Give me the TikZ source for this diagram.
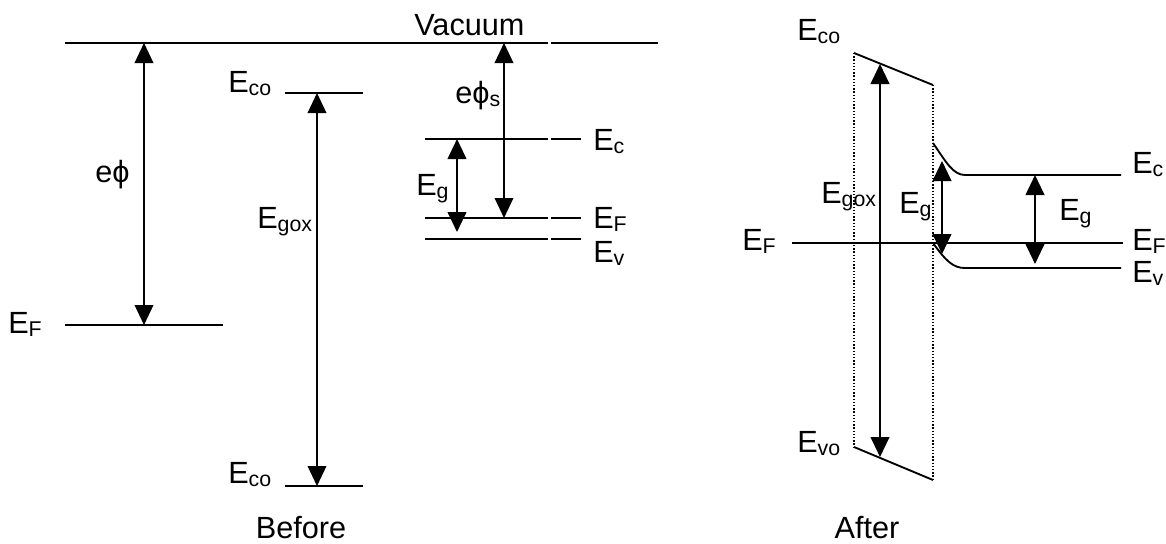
\documentclass[tikz,border=0pt]{standalone}
\usepackage{fontspec}
\setmainfont{Liberation Sans}
\usetikzlibrary{arrows.meta}
\newcommand\Esb[1]{E\raisebox{-2.6pt}{\fontsize{16}{17}\selectfont #1}}
\newcommand\mysub[1]{\raisebox{-2.6pt}{\fontsize{16}{17}\selectfont #1}}
\begin{document}
\begin{tikzpicture}[x=0.75pt,y=-0.75pt,
  lvl/.style={line width=1.4pt},
  vac/.style={line width=1.1pt},
  dbl/.style={line width=1.1pt,{Triangle[length=15pt,width=14pt]}-{Triangle[length=15pt,width=14pt]}},
  dblb/.style={line width=1.5pt,{Triangle[length=15pt,width=14pt]}-{Triangle[length=15pt,width=14pt]}},
  lab/.style={anchor=base west,inner sep=0pt,font=\fontsize{23}{27}\selectfont},
  ctr/.style={anchor=base,inner sep=0pt,font=\fontsize{23}{27}\selectfont},
  oxbox/.style={line width=1pt,dash pattern=on 1pt off 1.4pt}]
\useasboundingbox (0,0) rectangle (1166,543);
% ---------- Before ----------
\coordinate (v1) at (65,43);  \coordinate (v2) at (548,43);
\coordinate (v3) at (551,43); \coordinate (v4) at (658,43);
\draw[vac] (v1) -- (v2) (v3) -- (v4);
\coordinate (ef1) at (65,325); \coordinate (ef2) at (223,325);
\draw[vac] (ef1) -- (ef2);
\coordinate (ea1) at (144,43); \coordinate (ea2) at (144,325);
\draw[dbl] (ea1) -- (ea2);
\coordinate (ct1) at (285,93);  \coordinate (ct2) at (363,93);
\coordinate (cb1) at (285,486); \coordinate (cb2) at (363,486);
\draw[lvl] (ct1) -- (ct2) (cb1) -- (cb2);
\coordinate (ga1) at (317,93); \coordinate (ga2) at (317,486);
\draw[dbl] (ga1) -- (ga2);
\foreach \y/\n in {139/c,218/f,239/v}{
  \coordinate (s\n1) at (425,\y); \coordinate (s\n2) at (548,\y);
  \coordinate (s\n3) at (551,\y); \coordinate (s\n4) at (581,\y);
  \draw[lvl] (s\n1) -- (s\n2) (s\n3) -- (s\n4);
}
\coordinate (ps1) at (504,43); \coordinate (ps2) at (504,218);
\draw[dbl] (ps1) -- (ps2);
\coordinate (eg1) at (457,139); \coordinate (eg2) at (457,232);
\draw[dblb] (eg1) -- (eg2);
\node[lab] (tvac) at (414,35) {Vacuum};
\node[lab] (tephi) at (95,182) {e\char"03D5};
\node[lab] (tecot) at (228,92) {\Esb{co}};
\node[lab] (tecob) at (228,483) {\Esb{co}};
\node[lab] (tefl) at (8,333) {\Esb{F}};
\node[lab] (tegox) at (257,228) {\Esb{gox}};
\node[lab] (tephs) at (455,103) {e\char"03D5\mysub{s}};
\node[lab] (tegl) at (416,195) {\Esb{g}};
\node[lab] (tecl) at (593,150) {\Esb{c}};
\node[lab] (tefs) at (593,228) {\Esb{F}};
\node[lab] (tevl) at (593,262) {\Esb{v}};
\node[ctr] (tbef) at (301,538) {Before};
% ---------- After ----------
\coordinate (o1) at (854,53);  \coordinate (o2) at (933,85);
\coordinate (o3) at (854,447); \coordinate (o4) at (933,480);
\draw[lvl] (o1) -- (o2) (o3) -- (o4);
\draw[oxbox] (o1) -- (o3) (o2) -- (o4);
\coordinate (rf1) at (792,243); \coordinate (rf2) at (1123,243);
\draw[vac] (rf1) -- (rf2);
\coordinate (rc0) at (933,143); \coordinate (rc1) at (965,175); \coordinate (rc2) at (1121,175);
\draw[lvl] (rc0) .. controls (946,162) and (953,175) .. (rc1) -- (rc2);
\coordinate (rv0) at (933,243); \coordinate (rv1) at (965,268); \coordinate (rv2) at (1121,268);
\draw[lvl] (rv0) .. controls (946,261) and (953,268) .. (rv1) -- (rv2);
\coordinate (rg1) at (880,64); \coordinate (rg2) at (880,457);
\draw[dblb] (rg1) -- (rg2);
\coordinate (rm1) at (942,161); \coordinate (rm2) at (942,254);
\draw[dblb] (rm1) -- (rm2);
\coordinate (rr1) at (1035,175); \coordinate (rr2) at (1035,264);
\draw[dblb] (rr1) -- (rr2);
\node[lab] (reco) at (797,40) {\Esb{co}};
\node[lab] (revo) at (797,452) {\Esb{vo}};
\node[lab] (regox) at (821,203) {\Esb{gox}};
\node[lab] (refl) at (742,250) {\Esb{F}};
\node[lab] (regm) at (899,213) {\Esb{g}};
\node[lab] (regr) at (1059,220) {\Esb{g}};
\node[lab] (rec) at (1132,173) {\Esb{c}};
\node[lab] (ref) at (1132,250) {\Esb{F}};
\node[lab] (rev) at (1132,282) {\Esb{v}};
\node[ctr] (taft) at (867,538) {After};
\end{tikzpicture}
\end{document}
